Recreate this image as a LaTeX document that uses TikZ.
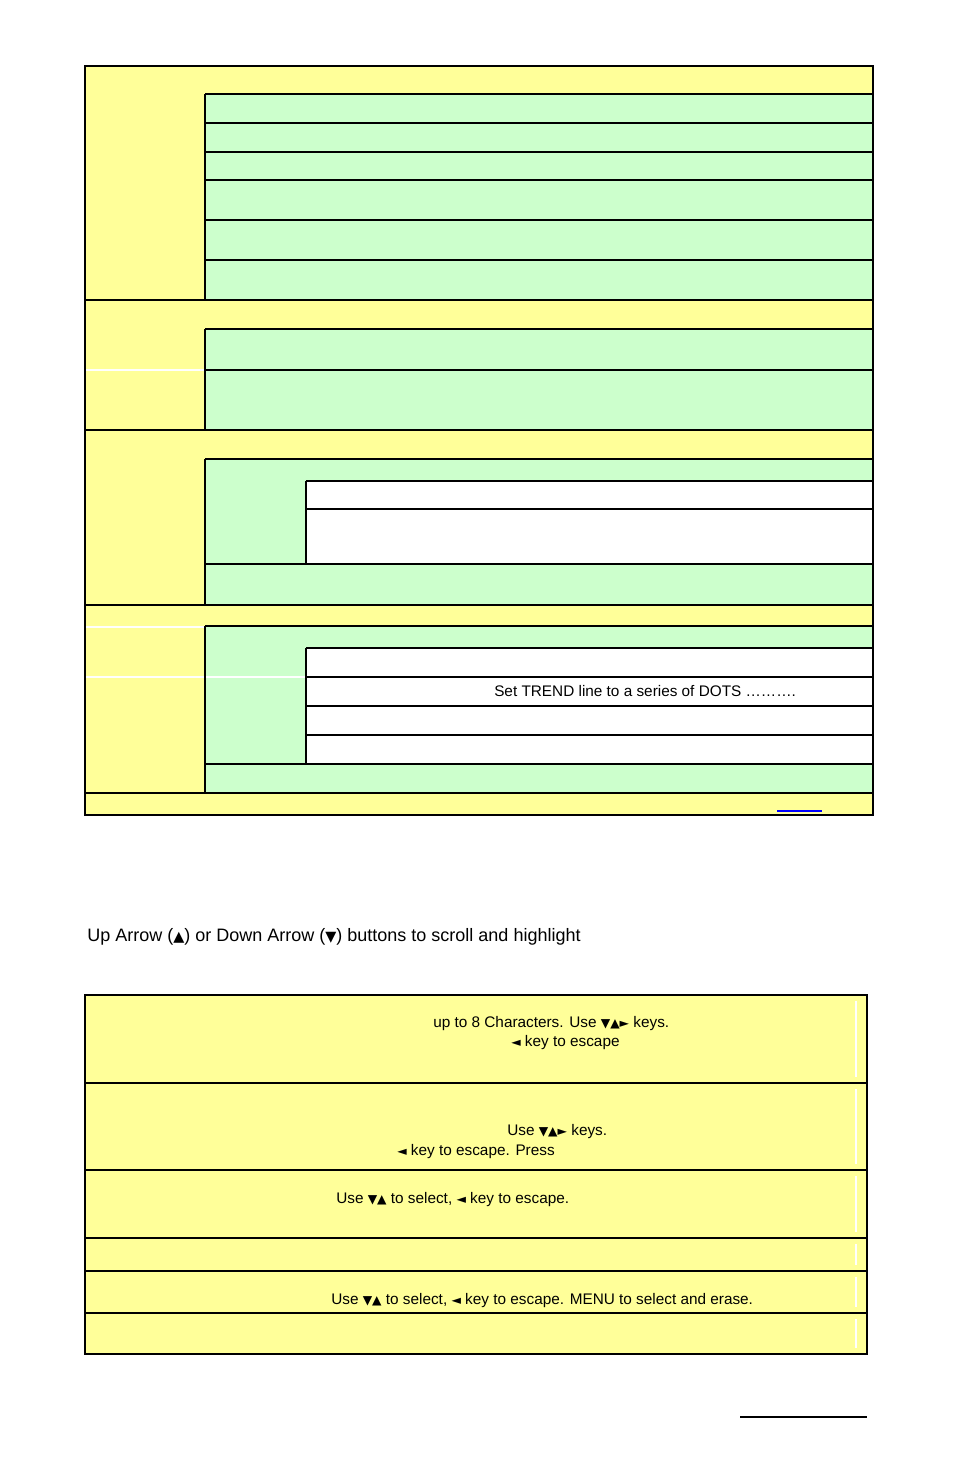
\documentclass[tikz,border=0pt]{standalone}
\usepackage{fontspec}
\setmainfont{Liberation Sans}
\newfontfamily\symfont{DejaVu Sans}
\usepackage{tikz}
\definecolor{paleyellow}{HTML}{FFFF99}
\definecolor{palegreen}{HTML}{CCFFCC}
\newcommand{\dn}{{\symfont\scalebox{0.8}{▼}}}
\newcommand{\up}{{\symfont\scalebox{0.8}{▲}}}
\newcommand{\rt}{{\symfont\scalebox{0.8}{►}}}
\newcommand{\lt}{{\symfont\scalebox{0.8}{◄}}}
\tikzset{
  thick line/.style={line width=1.6pt},
  thin line/.style={line width=0.9pt},
  faint/.style={white, line width=0.8pt},
  cell text/.style={anchor=west, inner sep=0pt, font=\fontsize{11.5}{13}\selectfont},
}
\begin{document}
\begin{tikzpicture}[x=0.75pt, y=-0.75pt]
        \useasboundingbox (0,0) rectangle (954,1475);

        % top table
        \fill[paleyellow] (85,66) rectangle (873,815);
        \fill[palegreen] (205,94) rectangle (873,300);
        \fill[palegreen] (205,329) rectangle (873,430);
        \fill[palegreen] (205,459) rectangle (873,605);
        \fill[white] (306,481) rectangle (873,564);
        \fill[palegreen] (205,626) rectangle (873,793);
        \fill[white] (306,648) rectangle (873,764);

        % faint lines in the left column
        \draw[faint] (85,370) -- (205,370);
        \draw[faint] (85,627) -- (205,627);
        \draw[faint] (85,677) -- (306,677);

        % rows of section 1
        \draw[thin line] (205,94) -- (873,94) (205,94) -- (205,300);
        \foreach \yy in {123,152,180,220,260}
            \draw[thin line] (205,\yy) -- (873,\yy);
        % section 2
        \draw[thin line] (205,329) -- (873,329) (205,329) -- (205,430);
        \draw[thin line] (205,370) -- (873,370);
        % section 3
        \draw[thick line] (205,459) -- (873,459);
        \draw[thin line] (205,459) -- (205,605);
        \draw[thin line] (306,481) -- (873,481) (306,481) -- (306,564);
        \draw[thin line] (306,509) -- (873,509);
        \draw[thin line] (205,564) -- (873,564);
        % section 4
        \draw[thick line] (205,626) -- (873,626);
        \draw[thin line] (205,626) -- (205,793);
        \draw[thick line] (306,648) -- (306,764) -- (205,764);
        \foreach \yy in {648,677,706,735}
            \draw[thick line] (306,\yy) -- (873,\yy);
        \draw[thin line] (306,764) -- (873,764);
        % section borders
        \foreach \yy in {300,430,605,793}
            \draw[thick line] (85,\yy) -- (873,\yy);
        \draw[thick line] (85,66) rectangle (873,815);
        \draw[blue, line width=1.2pt] (777,811) -- (822,811);

        \node[cell text] (dots) at (494,691) {Set TREND line to a series of DOTS \dots\dots\dots.};

        % caption line
        \node[anchor=west, inner sep=0pt, font=\fontsize{13.5}{16}\selectfont] (scroll) at (87,937)
            {Up Arrow (\up) or Down Arrow (\dn) buttons to scroll and highlight};

        % bottom table
        \fill[paleyellow] (85,995) rectangle (867,1354);
        \foreach \ya/\yb in {995/1083,1083/1170,1170/1238,1238/1271,1271/1313,1313/1354}
            \draw[faint] (856,\ya+6) -- (856,\yb-6);
        \foreach \yy in {1083,1170,1238,1271}
            \draw[thick line] (85,\yy) -- (867,\yy);
        \draw[thin line] (85,1313) -- (867,1313);
        \draw[thick line] (85,995) rectangle (867,1354);

        \node[cell text] (name) at (433,1024) {up to 8 Characters. Use \dn\up\rt{} keys.};
        \node[cell text] (nameesc) at (511,1043) {\lt{} key to escape};
        \node[cell text] (keys) at (507,1132) {Use \dn\up\rt{} keys.};
        \node[cell text] (press) at (397,1152) {\lt{} key to escape. Press};
        \node[cell text] (select) at (336,1200) {Use \dn\up{} to select, \lt{} key to escape.};
        \node[cell text] (erase) at (331,1301) {Use \dn\up{} to select, \lt{} key to escape. MENU to select and erase.};

        \draw[thin line] (740,1417) -- (867,1417);
\end{tikzpicture}
\end{document}
